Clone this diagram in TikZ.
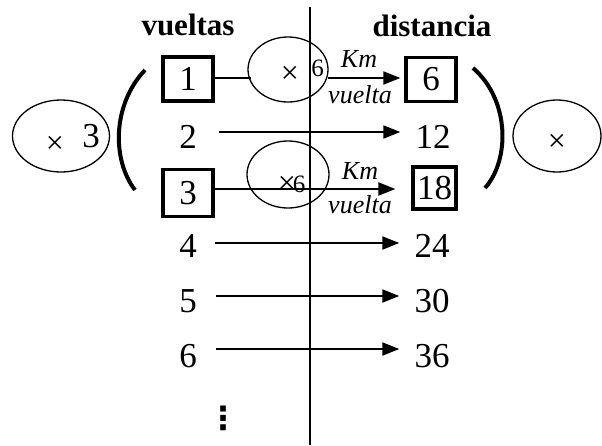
\documentclass[tikz,border=0pt]{standalone}
\usepackage{fontspec}
\setmainfont{Liberation Serif}
\newfontfamily\symfont{DejaVu Sans}
\usetikzlibrary{arrows.meta,shapes.geometric}
\tikzset{
  num/.style={inner sep=0pt, font=\fontsize{35}{35}\selectfont},
  head/.style={inner sep=0pt, anchor=base, font=\fontsize{31}{31}\selectfont\bfseries},
  unitlbl/.style={inner sep=0pt, anchor=base, font=\fontsize{26}{26}\selectfont\itshape},
  numbox/.style={draw, line width=3.2pt, inner sep=0pt, minimum width=50pt, minimum height=44pt, font=\fontsize{35}{35}\selectfont},
  oval/.style={draw, ellipse, line width=1.3pt, inner sep=0pt},
  arr/.style={line width=2pt, -{Triangle[length=17pt,width=13pt]}},
  plain/.style={line width=2pt},
  paren/.style={line width=4pt},
  timesign/.style={inner sep=0pt, font=\fontsize{32}{32}\selectfont},
  small/.style={inner sep=0pt, font=\fontsize{25}{25}\selectfont},
}
\begin{document}
\begin{tikzpicture}[x=1pt,y=-1pt]
\useasboundingbox (0,0) rectangle (602,445);
% vertical divider
\coordinate (vtop) at (310,7);
\coordinate (vbot) at (310,445);
\draw[plain] (vtop) -- (vbot);
% headings
\node[head] (hv) at (188,35) {vueltas};
\node[head] (hd) at (432,36) {distancia};
% ovals
\node[oval, minimum width=80pt, minimum height=65pt] (e1) at (288,69.5) {};
\node[oval, minimum width=82pt, minimum height=67pt] (e2) at (288,174.5) {};
\node[oval, minimum width=97pt, minimum height=72pt] (eL) at (61,136) {};
\node[oval, minimum width=88pt, minimum height=72pt] (eR) at (557,136) {};
% oval texts
\node[timesign] (x1) at (290,75) {×};
\node[small] (s1) at (317.5,68) {6};
\node[timesign] (x2) at (287,185) {×};
\node[small] (s2) at (299,184) {6};
\node[timesign] (xL) at (55,145) {×};
\node[num] (tL) at (91,136) {3};
\node[timesign] (xR) at (557,143) {×};
% row 1
\node[numbox] (b1) at (188,79) {1};
\node[numbox] (b6) at (431,79.5) {6};
\coordinate (c1) at (251,78);
\coordinate (c2) at (328,78);
\draw[plain] (b1.east |- c1) -- (c1);
\draw[arr, shorten >=4pt] (c2) -- (b6.west |- c2);
\node[unitlbl] (km1) at (359,67) {Km};
\node[unitlbl] (vu1) at (360,103) {vuelta};
% row 2
\node[num] (n2) at (188,137) {2};
\node[num] (n12) at (433,137) {12};
% row 3
\node[numbox, minimum height=47pt] (b3) at (188,193) {3};
\node[numbox, minimum width=43pt, minimum height=42pt] (b18) at (434.5,188) {18};
\coordinate (c3) at (213,189);
\draw[arr, shorten >=16pt] (b3.east |- c3) -- (b18.west |- c3);
\node[unitlbl] (km2) at (360,179) {Km};
\node[unitlbl] (vu2) at (360,213) {vuelta};
% rows 4-6
\node[num] (n4) at (188,246) {4};
\node[num] (n24) at (432,246) {24};
\node[num] (n5) at (188,301) {5};
\node[num] (n30) at (432,301) {30};
\node[num] (n6) at (188,356) {6};
\node[num] (n36) at (432,356) {36};
\draw[arr, shorten <=22pt, shorten >=15pt] ([yshift=5pt]n2.east) -- ([yshift=5pt]n12.west);
\draw[arr, shorten <=18pt, shorten >=15pt] ([yshift=3pt]n4.east) -- ([yshift=3pt]n24.west);
\draw[arr, shorten <=19pt, shorten >=15pt] ([yshift=5pt]n5.east) -- ([yshift=5pt]n30.west);
\draw[arr, shorten <=19pt, shorten >=15pt] ([yshift=7pt]n6.east) -- ([yshift=7pt]n36.west);
% vertical dots
\node[inner sep=0pt, font=\fontsize{32}{32}\selectfont\symfont\bfseries] (dots) at (223,418) {⋮};
% parentheses
\coordinate (pLt) at (145,70);
\coordinate (pLb) at (135,190);
\draw[paren] (pLt) .. controls (112,105) and (112,160) .. (pLb);
\coordinate (pRt) at (473,68);
\coordinate (pRb) at (485,188);
\draw[paren] (pRt) .. controls (510,100) and (510,160) .. (pRb);
\end{tikzpicture}
\end{document}
